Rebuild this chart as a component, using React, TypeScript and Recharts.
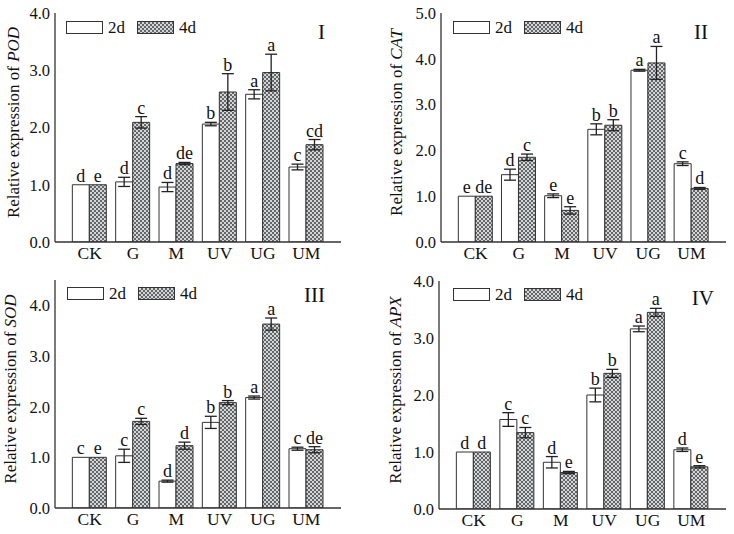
import React from "react";
import { Bar, BarChart, ErrorBar, Label, LabelList, Legend, XAxis, YAxis } from "recharts";

const cats = ["CK", "G", "M", "UV", "UG", "UM"];

// POD
const pod2 = [1.0, 1.05, 0.96, 2.06, 2.58, 1.31];
const pod4 = [1.0, 2.09, 1.37, 2.62, 2.96, 1.7];
const podErr2 = [0, 0.08, 0.08, 0.03, 0.08, 0.05];
const podErr4 = [0, 0.1, 0.02, 0.32, 0.32, 0.09];
const podSig2 = ["d", "d", "d", "b", "a", "c"];
const podSig4 = ["e", "c", "de", "b", "a", "cd"];

// CAT
const cat2 = [1.0, 1.47, 1.01, 2.46, 3.75, 1.71];
const cat4 = [1.0, 1.85, 0.69, 2.55, 3.91, 1.17];
const catErr2 = [0, 0.12, 0.04, 0.12, 0.02, 0.04];
const catErr4 = [0, 0.07, 0.08, 0.12, 0.36, 0.02];
const catSig2 = ["e", "d", "e", "b", "a", "c"];
const catSig4 = ["de", "c", "e", "b", "a", "d"];

// SOD
const sod2 = [1.0, 1.03, 0.53, 1.69, 2.18, 1.17];
const sod4 = [1.0, 1.71, 1.23, 2.08, 3.63, 1.15];
const sodErr2 = [0, 0.13, 0.02, 0.12, 0.03, 0.03];
const sodErr4 = [0, 0.06, 0.07, 0.04, 0.12, 0.06];
const sodSig2 = ["c", "c", "d", "b", "a", "c"];
const sodSig4 = ["e", "c", "d", "b", "a", "de"];

// APX
const apx2 = [1.0, 1.57, 0.82, 2.0, 3.16, 1.04];
const apx4 = [1.0, 1.34, 0.64, 2.38, 3.45, 0.74];
const apxErr2 = [0, 0.12, 0.1, 0.12, 0.05, 0.03];
const apxErr4 = [0, 0.09, 0.02, 0.07, 0.07, 0.02];
const apxSig2 = ["d", "c", "d", "b", "a", "d"];
const apxSig4 = ["d", "c", "e", "b", "a", "e"];

const series = ["2d", "4d"];

const FONT = '"Liberation Serif", "Times New Roman", serif';
const INK = "#333";
const W = 367;
const H = 267;

const hatchCss = "repeating-conic-gradient(#666 0 25%, #d2d6d9 0 50%) 0 0 / 4px 4px";

type PanelProps = {
  id: string;
  gene: string;
  numeral: string;
  v2: number[];
  v4: number[];
  e2: number[];
  e4: number[];
  s2: string[];
  s4: string[];
  yMax: number;
  ticks: number[];
  x: number;
  y: number;
  m: { top: number; right: number; left: number; bottom: number };
  labelX: number;
  legendLeft: number;
  legendTop: number;
  numRight: number;
  numBase: number;
};

function Panel(p: PanelProps) {
  const data = cats.map((c, i) => ({
    c,
    a: p.v2[i],
    b: p.v4[i],
    ea: p.e2[i],
    eb: p.e4[i],
    la: p.s2[i],
    lb: p.s4[i],
  }));
  const plotH = H - p.m.top - p.m.bottom;
  const cy = p.m.top + plotH / 2 - 5;

  // significance letter sits just above the error bar cap
  const letter = (vals: number[], errs: number[]) => (props: any) => {
    const { x, y, width, height, value, index } = props;
    const v = vals[index];
    const errPx = v > 0 ? (Number(height) * errs[index]) / v : 0;
    return (
      <text
        x={Number(x) + Number(width) / 2}
        y={Number(y) - errPx - 3}
        textAnchor="middle"
        fontSize={18}
        fontFamily={FONT}
        fill="#111"
      >
        {value}
      </text>
    );
  };

  return (
    <div style={{ position: "absolute", left: p.x, top: p.y, width: W, height: H }}>
      <BarChart
        width={W}
        height={H}
        data={data}
        margin={{ top: p.m.top, right: p.m.right, left: 0, bottom: 0 }}
        barCategoryGap="10%"
        barGap={0}
      >
        <defs>
          <pattern id={`hatch-${p.id}`} width={4} height={4} patternUnits="userSpaceOnUse">
            <rect width={4} height={4} fill="#d2d6d9" />
            <rect width={2} height={2} fill="#666" />
            <rect x={2} y={2} width={2} height={2} fill="#666" />
          </pattern>
        </defs>
        <XAxis
          dataKey="c"
          height={p.m.bottom}
          padding={{ left: 13, right: 13 }}
          tickLine={false}
          tickSize={3}
          tickMargin={2}
          axisLine={{ stroke: INK, strokeWidth: 1.3 }}
          tick={{ fontSize: 17.5, fontFamily: FONT, fill: "#111" }}
          interval={0}
        />
        <XAxis
          xAxisId="top"
          dataKey="c"
          orientation="top"
          height={0}
          tick={false}
          tickLine={false}
          axisLine={{ stroke: INK, strokeWidth: 1.3 }}
        />
        <YAxis
          width={p.m.left}
          domain={[0, p.yMax]}
          ticks={p.ticks}
          allowDataOverflow
          tickFormatter={(v: number) => v.toFixed(1)}
          tickLine={false}
          tickSize={3}
          tickMargin={2}
          axisLine={{ stroke: INK, strokeWidth: 1.3 }}
          tick={{ fontSize: 16.5, fontFamily: FONT, fill: "#111" }}
        >
          <Label
            content={() => (
              <text
                x={p.labelX}
                y={cy}
                transform={`rotate(-90, ${p.labelX}, ${cy})`}
                textAnchor="middle"
                dominantBaseline="central"
                fontSize={17}
                fontFamily={FONT}
                fill="#111"
              >
                Relative expression of <tspan fontStyle="italic">{p.gene}</tspan>
              </text>
            )}
          />
        </YAxis>
        <YAxis
          yAxisId="right"
          orientation="right"
          width={0}
          domain={[0, p.yMax]}
          tick={false}
          tickLine={false}
          axisLine={{ stroke: INK, strokeWidth: 1.3 }}
        />
        <Legend
          layout="vertical"
          align="center"
          verticalAlign="middle"
          wrapperStyle={{ left: p.legendLeft, top: p.legendTop, width: "auto", height: "auto" }}
          content={() => (
            <div style={{ display: "flex", alignItems: "center", fontFamily: FONT, fontSize: 17, color: "#111" }}>
              {series.map((s, i) => (
                <div key={s} style={{ display: "flex", alignItems: "center", marginRight: i === 0 ? 12 : 0 }}>
                  <span
                    style={{
                      display: "inline-block",
                      width: 35,
                      height: 11,
                      border: `1px solid ${INK}`,
                      background: i === 0 ? "#fff" : hatchCss,
                    }}
                  />
                  <span style={{ marginLeft: 5, lineHeight: "13px" }}>{s}</span>
                </div>
              ))}
            </div>
          )}
        />
        <Bar dataKey="a" name="2d" fill="#fff" stroke={INK} strokeWidth={1} isAnimationActive={false}>
          <ErrorBar dataKey="ea" width={6} stroke="#222" strokeWidth={1.3} direction="y" />
          <LabelList dataKey="la" content={letter(p.v2, p.e2)} />
        </Bar>
        <Bar dataKey="b" name="4d" fill={`url(#hatch-${p.id})`} stroke={INK} strokeWidth={1} isAnimationActive={false}>
          <ErrorBar dataKey="eb" width={6} stroke="#222" strokeWidth={1.3} direction="y" />
          <LabelList dataKey="lb" content={letter(p.v4, p.e4)} />
        </Bar>
      </BarChart>
      <svg
        width={W}
        height={H}
        style={{ position: "absolute", left: 0, top: 0, pointerEvents: "none" }}
      >
        <text x={W - p.numRight} y={p.numBase} textAnchor="end" fontSize={21} fontFamily={FONT} fill="#111">
          {p.numeral}
        </text>
      </svg>
    </div>
  );
}

export default function App() {
  return (
    <div style={{ position: "absolute", left: 0, top: 0, width: 734, height: 534, background: "#fff" }}>
      <Panel
        id="pod"
        gene="POD"
        numeral="I"
        v2={pod2}
        v4={pod4}
        e2={podErr2}
        e4={podErr4}
        s2={podSig2}
        s4={podSig4}
        yMax={4}
        ticks={[0, 1, 2, 3, 4]}
        x={0}
        y={0}
        m={{ top: 13, right: 26, left: 55, bottom: 25 }}
        labelX={13}
        legendLeft={66}
        legendTop={21}
        numRight={42}
        numBase={39}
      />
      <Panel
        id="cat"
        gene="CAT"
        numeral="II"
        v2={cat2}
        v4={cat4}
        e2={catErr2}
        e4={catErr4}
        s2={catSig2}
        s4={catSig4}
        yMax={5}
        ticks={[0, 1, 2, 3, 4, 5]}
        x={367}
        y={0}
        m={{ top: 13, right: 8, left: 74, bottom: 25 }}
        labelX={29}
        legendLeft={86}
        legendTop={21}
        numRight={26}
        numBase={39}
      />
      <Panel
        id="sod"
        gene="SOD"
        numeral="III"
        v2={sod2}
        v4={sod4}
        e2={sodErr2}
        e4={sodErr4}
        s2={sodSig2}
        s4={sodSig4}
        yMax={4.5}
        ticks={[0, 1, 2, 3, 4]}
        x={0}
        y={267}
        m={{ top: 13, right: 26, left: 55, bottom: 26 }}
        labelX={10}
        legendLeft={67}
        legendTop={20}
        numRight={42}
        numBase={35}
      />
      <Panel
        id="apx"
        gene="APX"
        numeral="IV"
        v2={apx2}
        v4={apx4}
        e2={apxErr2}
        e4={apxErr4}
        s2={apxSig2}
        s4={apxSig4}
        yMax={4}
        ticks={[0, 1, 2, 3, 4]}
        x={367}
        y={267}
        m={{ top: 14, right: 8, left: 72, bottom: 25 }}
        labelX={28}
        legendLeft={86}
        legendTop={21}
        numRight={20}
        numBase={38}
      />
    </div>
  );
}
